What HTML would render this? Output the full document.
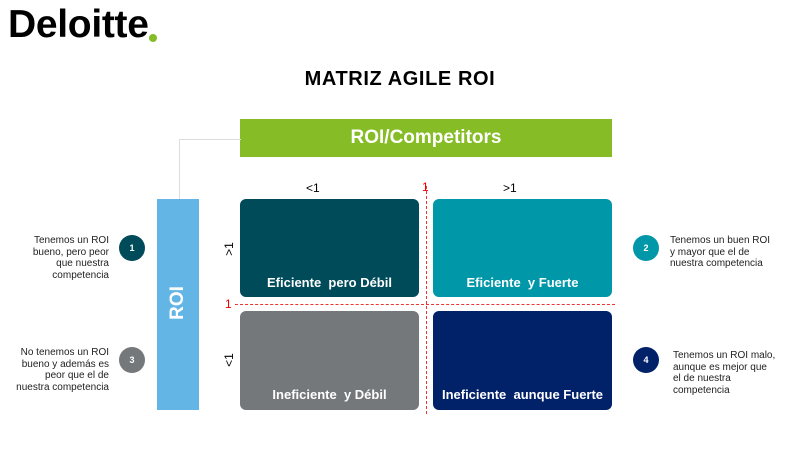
<!DOCTYPE html>
<html><head><meta charset="utf-8"><style>
body{margin:0;width:800px;height:450px;background:#fff;position:relative;overflow:hidden;font-family:"Liberation Sans",Arial,sans-serif}
.a{position:absolute}
.box{position:absolute;border-radius:6px;color:#fff;font-weight:bold;font-size:13px;text-align:center;box-sizing:border-box;padding-top:76px}
.c{position:absolute;width:26px;height:26px;border-radius:50%;color:#fff;font-size:9px;font-weight:bold;text-align:center;line-height:26px}
.t{position:absolute;font-size:10px;line-height:11.5px;color:#222}
</style></head><body>
<div class="a" style="left:8px;top:3px;font-size:39px;font-weight:bold;letter-spacing:-0.3px;color:#000">Deloitte</div>
<div class="a" style="left:149px;top:34px;width:8px;height:8px;border-radius:50%;background:#86bc25"></div>
<div class="a" style="left:0;width:800px;top:68px;text-align:center;font-size:20px;font-weight:bold;color:#000;letter-spacing:0.6px">MATRIZ AGILE ROI</div>
<div class="a" style="left:240px;top:119px;width:372px;height:38px;background:#86bc25;color:#fff;font-weight:bold;font-size:19px;text-align:center;line-height:38px">ROI/Competitors</div>
<div class="a" style="left:179px;top:139px;width:61px;height:60px;border-left:1px solid #ddd;border-top:1px solid #ddd"></div>
<div class="a" style="left:157px;top:199px;width:42px;height:211px;background:#62b5e5"></div>
<div class="a" style="left:157px;top:292px;width:42px;text-align:center;color:#fff;font-weight:bold;font-size:19px;transform:rotate(-90deg)">ROI</div>
<div class="a" style="left:306px;top:181px;font-size:12px">&lt;1</div>
<div class="a" style="left:503px;top:181px;font-size:12px">&gt;1</div>
<div class="a" style="left:422px;top:180px;font-size:12px;color:#e00">1</div>
<div class="a" style="left:225px;top:297px;font-size:12px;color:#e00">1</div>
<div class="a" style="left:222px;top:242px;font-size:12px;transform:rotate(-90deg)">&gt;1</div>
<div class="a" style="left:222px;top:353px;font-size:12px;transform:rotate(-90deg)">&lt;1</div>
<div class="a" style="left:426px;top:186px;height:228px;border-left:1px dashed #e33"></div>
<div class="a" style="left:235px;top:304px;width:380px;border-top:1px dashed #e33"></div>
<div class="box" style="left:240px;top:199px;width:179px;height:98px;background:#004b5a">Eficiente&nbsp; pero Débil</div>
<div class="box" style="left:433px;top:199px;width:179px;height:98px;background:#0097a9">Eficiente&nbsp; y Fuerte</div>
<div class="box" style="left:240px;top:311px;width:179px;height:99px;background:#75787b">Ineficiente&nbsp; y Débil</div>
<div class="box" style="left:433px;top:311px;width:179px;height:99px;background:#012169">Ineficiente&nbsp; aunque Fuerte</div>
<div class="c" style="left:119px;top:235px;background:#004b5a">1</div>
<div class="c" style="left:119px;top:347px;background:#75787b">3</div>
<div class="c" style="left:633px;top:235px;background:#0097a9">2</div>
<div class="c" style="left:633px;top:347px;background:#012169">4</div>
<div class="t" style="right:691px;top:235px;text-align:right">Tenemos un ROI<br>bueno, pero peor<br>que nuestra<br>competencia</div>
<div class="t" style="right:691px;top:347px;text-align:right">No tenemos un ROI<br>bueno y además es<br>peor que el de<br>nuestra competencia</div>
<div class="t" style="left:670px;top:235px">Tenemos un buen ROI<br>y mayor que el de<br>nuestra competencia</div>
<div class="t" style="left:673px;top:350px">Tenemos un ROI malo,<br>aunque es mejor que<br>el de nuestra<br>competencia</div>
</body></html>
